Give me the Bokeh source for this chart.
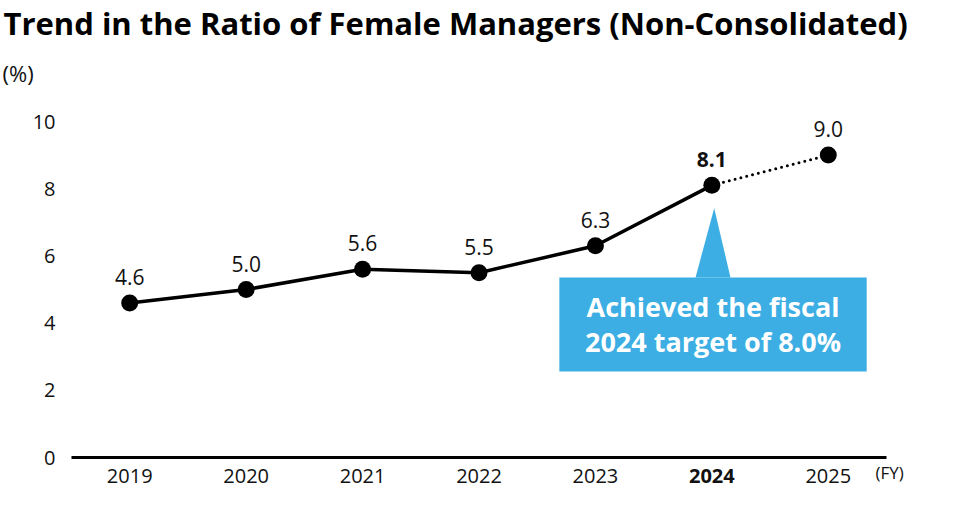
from bokeh.plotting import figure
from bokeh.models import ColumnDataSource
from bokeh.core.properties import field, value
from bokeh.embed import file_html
from bokeh.resources import INLINE

# ---- data ----
years = [2019, 2020, 2021, 2022, 2023, 2024, 2025]
ratios = [4.6, 5.0, 5.6, 5.5, 6.3, 8.1, 9.0]
value_labels = ["4.6", "5.0", "5.6", "5.5", "6.3", "8.1", "9.0"]
year_labels = ["2019", "2020", "2021", "2022", "2023", "2024", "2025"]
y_ticks = [0, 2, 4, 6, 8, 10]
y_tick_labels = ["0", "2", "4", "6", "8", "10"]
highlight_year = 2024
title_text = "Trend in the Ratio of Female Managers (Non-Consolidated)"
callout_lines = ["Achieved the fiscal", "2024 target of 8.0%"]

FONT = "Open Sans"
TXT = "#111111"
W, H = 941, 490
# pixel geometry of the plotting area (from top-left of canvas)
AX_LEFT, AX_RIGHT, AX_ZERO = 71, 886, 457
PX_PER_YEAR = (AX_RIGHT - AX_LEFT) / 7.0
PX_PER_UNIT = 33.6

X0 = years[0] - 0.5 - AX_LEFT / PX_PER_YEAR
X1 = years[-1] + 0.5 + (W - AX_RIGHT) / PX_PER_YEAR
Y0 = -(H - AX_ZERO) / PX_PER_UNIT
Y1 = AX_ZERO / PX_PER_UNIT

def dx(px):
    return X0 + px / PX_PER_YEAR
def dy(py):
    return (AX_ZERO - py) / PX_PER_UNIT

p = figure(width=W, height=H, output_backend="svg", toolbar_location=None,
           x_range=(X0, X1), y_range=(Y0, Y1),
           min_border=0)
p.outline_line_color = None
p.grid.grid_line_color = None
p.axis.visible = False

# title and unit labels
p.text(x=[dx(3)], y=[dy(22)], text=[title_text], text_font=value(FONT),
       text_font_size="31px", text_font_style="bold", text_color="black",
       text_align="left", text_baseline="middle")
p.text(x=[dx(2)], y=[dy(72)], text=["(%)"], text_font=value(FONT),
       text_font_size="22px", text_color=TXT,
       text_align="left", text_baseline="middle")

# y tick labels
p.text(x=[dx(55)] * len(y_ticks), y=y_ticks, text=y_tick_labels,
       text_font=value(FONT), text_font_size="20px", text_color=TXT,
       text_align="right", text_baseline="middle")

# x axis line
p.segment(x0=[years[0] - 0.5], y0=[0], x1=[years[-1] + 0.5], y1=[0],
          line_color="black", line_width=3)

# x labels
ystyles = ["bold" if y == highlight_year else "normal" for y in years]
xsrc = ColumnDataSource(dict(x=years, y=[dy(475)] * len(years), t=year_labels, s=ystyles))
p.text(x="x", y="y", text="t", source=xsrc, text_font=value(FONT),
       text_font_size="20px", text_font_style=field("s"), text_color=TXT,
       text_align="center", text_baseline="middle")
p.text(x=[dx(875)], y=[dy(472)], text=["(FY)"], text_font=value(FONT),
       text_font_size="17px", text_color=TXT,
       text_align="left", text_baseline="middle")

# callout
cx = highlight_year
hl_val = ratios[years.index(highlight_year)]
p.quad(left=[cx - 1.31], right=[cx + 1.33], top=[5.36], bottom=[2.56],
       fill_color="#3daee3", line_color=None)
p.patch(x=[cx - 0.14, cx + 0.02, cx + 0.16], y=[5.36, hl_val - 0.68, 5.36],
        fill_color="#3daee3", line_color=None)
p.text(x=[cx + 0.01, cx + 0.01], y=[4.48, 3.45], text=callout_lines,
       text_font=value(FONT), text_font_size="27px", text_font_style="bold",
       text_color="white", text_align="center", text_baseline="middle")

# lines
split = years.index(highlight_year)
p.line(years[:split + 1], ratios[:split + 1], line_color="black", line_width=3.5)
p.line(years[split:], ratios[split:], line_color="black", line_width=3,
       line_dash="0 6", line_cap="round")
p.scatter(years, ratios, size=17, fill_color="black", line_color=None)

vsrc = ColumnDataSource(dict(x=years, y=ratios, t=value_labels, s=ystyles))
p.text(x="x", y="y", text="t", source=vsrc, text_font=value(FONT),
       text_font_size="21px", text_font_style=field("s"), text_color=TXT,
       text_align="center", text_baseline="middle", y_offset=-26)

open("out.html", "w").write(file_html(p, INLINE))
